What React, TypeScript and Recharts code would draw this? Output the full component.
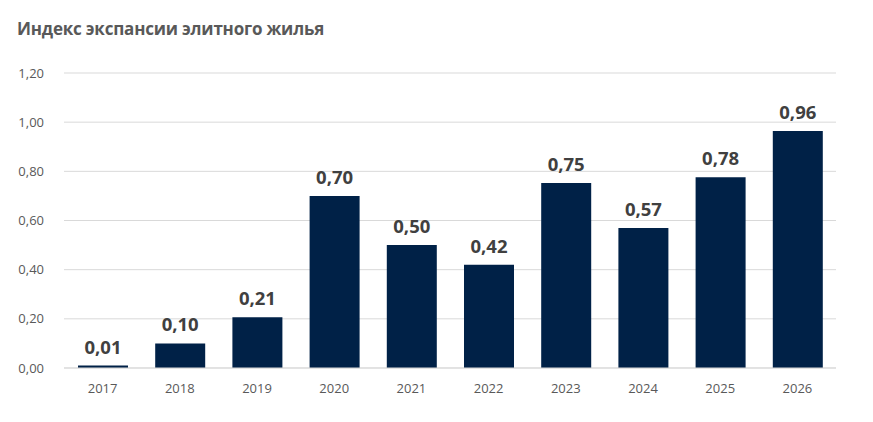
import React from "react";
import { BarChart, Bar, XAxis, YAxis, CartesianGrid, LabelList } from "recharts";

const years = ["2017", "2018", "2019", "2020", "2021", "2022", "2023", "2024", "2025", "2026"];
const values = [0.01, 0.1, 0.206, 0.7, 0.5, 0.42, 0.753, 0.57, 0.776, 0.964];
const yTicks = [0, 0.2, 0.4, 0.6, 0.8, 1.0, 1.2];

const data = years.map((year, i) => ({ year, value: values[i] }));

const fmt = (v: number) => Number(v).toFixed(2).replace(".", ",");

const FONT = "'Open Sans', 'Noto Sans', sans-serif";

export default function App() {
  return (
    <div style={{ position: "absolute", left: 0, top: 0, width: 873, height: 422, background: "#fff", fontFamily: FONT }}>
      <div
        style={{
          position: "absolute",
          left: 17,
          top: 17,
          fontSize: 17,
          fontWeight: 700,
          color: "#595959",
          letterSpacing: -0.2,
        }}
      >
        Индекс экспансии элитного жилья
      </div>
      <BarChart
        width={873}
        height={422}
        data={data}
        margin={{ top: 73, right: 37, bottom: 24, left: 0 }}
        barSize={50}
      >
        <CartesianGrid vertical={false} stroke="#d9d9d9" />
        <XAxis
          dataKey="year"
          height={30}
          tickLine={false}
          axisLine={{ stroke: "#d9d9d9" }}
          tickMargin={10}
          tick={{ fill: "#595959", fontSize: 13, fontFamily: FONT }}
        />
        <YAxis
          width={64}
          domain={[0, 1.2]}
          ticks={yTicks}
          tickFormatter={fmt}
          tickLine={false}
          axisLine={false}
          tickMargin={14}
          tick={{ fill: "#595959", fontSize: 13, fontFamily: FONT }}
        />
        <Bar dataKey="value" fill="#002147" isAnimationActive={false}>
          <LabelList
            dataKey="value"
            position="top"
            offset={12}
            formatter={(v: any) => fmt(v)}
            style={{ fill: "#404040", fontSize: 18.5, fontWeight: 700, fontFamily: FONT }}
          />
        </Bar>
      </BarChart>
    </div>
  );
}
